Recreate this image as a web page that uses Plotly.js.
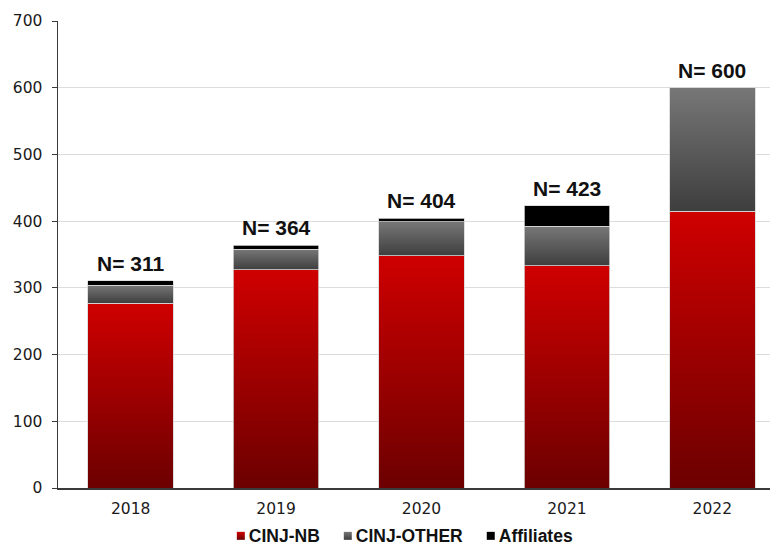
<!DOCTYPE html>
<html>
<head>
<meta charset="utf-8">
<script src="https://cdn.plot.ly/plotly-3.0.1.min.js"></script>
<style>
  html, body { margin: 0; padding: 0; background: #ffffff; }
  #chart { width: 770px; height: 547px; }
</style>
</head>
<body>
<div id="chart"></div>
<script>
// Accrual by site, per year
const years = ['2018', '2019', '2020', '2021', '2022'];
const cinjNB = [277, 327, 348, 333, 415];
const cinjOther = [27, 31, 51, 59, 185];
const affiliates = [7, 6, 5, 31, 0];
const totalLabels = [311, 364, 404, 423, 600];

const seriesNames = ['CINJ-NB', 'CINJ-OTHER', 'Affiliates'];
const baseColors = ['#b00000', '#5a5a5a', '#000000'];
// vertical gradients (top colour, bottom colour); null = flat fill
const gradients = [
  { id: 'gradNB', top: '#cf0000', bottom: '#6c0000' },
  { id: 'gradOther', top: '#777777', bottom: '#3e3e3e' },
  null
];

const tickFont = { family: 'DejaVu Sans, Liberation Sans, Arial, sans-serif', size: 15.5, color: '#1a1a1a' };
const boldFamily = 'Liberation Sans, Arial, Helvetica, sans-serif';

const traces = [cinjNB, cinjOther, affiliates].map((vals, i) => ({
  type: 'bar',
  name: seriesNames[i],
  x: years,
  y: vals,
  marker: { color: baseColors[i], line: { color: '#d6d6d6', width: 0.8 } },
  hoverinfo: 'skip'
}));

// stacked totals, so each "N=" label sits on top of its column
const stackTop = years.map((_, i) => cinjNB[i] + cinjOther[i] + affiliates[i]);

// category axes take annotation x as the category's serial number
const annotations = years.map((yr, i) => ({
  x: i,
  y: stackTop[i],
  xref: 'x',
  yref: 'y',
  text: 'N= ' + totalLabels[i],
  showarrow: false,
  yanchor: 'bottom',
  yshift: 4,
  font: { family: boldFamily, size: 21, color: '#111111', weight: 'bold' }
}));

const layout = {
  width: 770,
  height: 547,
  margin: { l: 58, r: 0, t: 21, b: 59 },
  paper_bgcolor: '#ffffff',
  plot_bgcolor: '#ffffff',
  barmode: 'stack',
  bargap: 0.412,
  showlegend: true,
  legend: {
    orientation: 'h',
    x: 0.483,
    xanchor: 'center',
    yref: 'container',
    y: 0.022,
    yanchor: 'middle',
    traceorder: 'normal',
    bgcolor: 'rgba(0,0,0,0)',
    font: { family: boldFamily, size: 17.5, color: '#111111', weight: 'bold' },
    itemwidth: 30,
    tracegroupgap: 0
  },
  xaxis: {
    type: 'category',
    range: [-0.5, 4.397],
    showline: true,
    linecolor: '#3a3a3a',
    linewidth: 1.5,
    ticks: '',
    showgrid: false,
    zeroline: false,
    tickfont: tickFont,
    ticklabelstandoff: 6,
    fixedrange: true
  },
  yaxis: {
    range: [0, 700],
    dtick: 100,
    tick0: 0,
    showline: true,
    linecolor: '#3a3a3a',
    linewidth: 1.5,
    ticks: 'outside',
    ticklen: 5,
    tickcolor: '#3a3a3a',
    showgrid: true,
    gridcolor: '#dcdcdc',
    gridwidth: 1.2,
    zeroline: false,
    tickfont: tickFont,
    ticklabelstandoff: 6,
    fixedrange: true
  },
  annotations: annotations
};

const gd = document.getElementById('chart');

function traceIndexOf(el) {
  const d = el.__data__;
  return d && d[0] && d[0].trace ? d[0].trace.index : null;
}

function applyGradients() {
  const svg = gd.querySelector('svg.main-svg');
  if (!svg) return;
  const ns = 'http://www.w3.org/2000/svg';
  let defs = svg.querySelector('defs');
  if (!defs) {
    defs = document.createElementNS(ns, 'defs');
    svg.insertBefore(defs, svg.firstChild);
  }
  gradients.forEach(g => {
    if (!g) return;
    const lg = document.createElementNS(ns, 'linearGradient');
    lg.setAttribute('id', g.id);
    lg.setAttribute('x1', '0'); lg.setAttribute('y1', '0');
    lg.setAttribute('x2', '0'); lg.setAttribute('y2', '1');
    [[0, g.top], [1, g.bottom]].forEach(([off, col]) => {
      const s = document.createElementNS(ns, 'stop');
      s.setAttribute('offset', String(off));
      s.setAttribute('stop-color', col);
      lg.appendChild(s);
    });
    defs.appendChild(lg);
  });

  gd.querySelectorAll('.barlayer .trace').forEach(t => {
    const idx = traceIndexOf(t);
    const g = idx !== null ? gradients[idx] : null;
    if (!g) return;
    t.querySelectorAll('path').forEach(p => { p.style.fill = 'url(#' + g.id + ')'; });
  });
}

// compact legend: small swatch right next to its label, items packed and centred
function compactLegend() {
  const legend = gd.querySelector('.legend');
  if (!legend) return;
  const m = /translate\(\s*([-\d.]+)[ ,]+([-\d.]+)/.exec(legend.getAttribute('transform') || '');
  const lx = m ? parseFloat(m[1]) : 0;
  const items = Array.from(legend.querySelectorAll('.traces'));
  const half = 4, textGap = 12, itemGap = 24;
  const widths = items.map(it => {
    const txt = it.querySelector('text.legendtext');
    return textGap + (txt ? txt.getComputedTextLength() : 0);
  });
  const total = widths.reduce((a, b) => a + b, 0) + itemGap * (items.length - 1);
  const centre = gd._fullLayout._size.l + 0.487 * gd._fullLayout._size.w;
  let cursor = centre - lx - total / 2;
  items.forEach((it, k) => {
    const mm = /translate\(\s*([-\d.]+)[ ,]+([-\d.]+)/.exec(it.getAttribute('transform') || '');
    const iy = mm ? parseFloat(mm[2]) : 0;
    it.setAttribute('transform', 'translate(' + cursor + ',' + iy + ')');
    const txt = it.querySelector('text.legendtext');
    if (txt) txt.setAttribute('x', textGap);
    it.querySelectorAll('.legendpoints path').forEach(p => {
      p.setAttribute('d', 'M' + half + ',' + half + 'H-' + half + 'V-' + half + 'H' + half + 'Z');
      p.setAttribute('transform', 'translate(' + half + ',1)');
      p.style.strokeWidth = '0';
      const idx = traceIndexOf(it);
      const g = idx !== null ? gradients[idx] : null;
      if (g) p.style.fill = 'url(#' + g.id + ')';
    });
    cursor += widths[k] + itemGap;
  });
}

Plotly.newPlot(gd, traces, layout, { staticPlot: true, displayModeBar: false })
  .then(() => { applyGradients(); compactLegend(); });
</script>
</body>
</html>
